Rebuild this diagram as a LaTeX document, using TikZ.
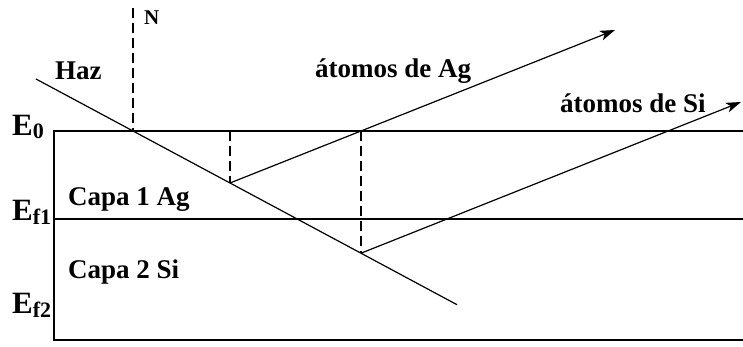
\documentclass[tikz,border=0pt]{standalone}
\usepackage{fontspec}
\setmainfont{Liberation Serif}
\usetikzlibrary{arrows.meta}

\begin{document}
\begin{tikzpicture}[x=1pt, y=-1pt,
    lbl/.style={anchor=base west, inner sep=0pt, font=\fontsize{27}{30}\selectfont\bfseries},
    nlbl/.style={anchor=base west, inner sep=0pt, font=\bfseries},
    elbl/.style={anchor=base west, inner sep=0pt, font=\fontsize{31}{34}\selectfont\bfseries},
    layer/.style={line width=1.2pt},
    beam/.style={line width=1.2pt},
    ray/.style={line width=1.2pt, -{Stealth[length=15pt, width=10pt, inset=4pt]}},
    perp/.style={line width=1.2pt, dash pattern=on 10pt off 5pt}]

    \useasboundingbox (0,0) rectangle (743,347);

    % capas
    \coordinate (tl) at (54,131);  \coordinate (tr) at (743,131);
    \coordinate (ml) at (54,219);  \coordinate (mr) at (743,219);
    \coordinate (bl) at (54,340);  \coordinate (br) at (743,340);
    \draw[layer] (tr) -- (tl) -- (bl) -- (br);
    \draw[layer] (ml) -- (mr);

    % haz incidente
    \coordinate (haz0) at (36,79);
    \coordinate (in)   at (133,131);
    \coordinate (r1)   at (230,183);
    \coordinate (r2)   at (361,253.2);
    \coordinate (fin)  at (457,304.7);
    \draw[beam] (haz0) -- (in) -- (r1) -- (r2) -- (fin);

    % normales
    \coordinate (ntop) at (133,8);
    \coordinate (s1)   at (230,131);
    \coordinate (out1) at (361,131);
    \draw[perp] (ntop) -- (in);
    \draw[perp] (s1) -- (r1);
    \draw[perp] (out1) -- (r2);

    % atomos emitidos
    \coordinate (tipAg) at (615,30);
    \coordinate (tipSi) at (741,102);
    \draw[ray] (r1) -- (out1) -- (tipAg);
    \draw[ray] (r2) -- (tipSi);

    % textos
    \node[nlbl] (nlab) at (144,25) {\fontsize{21}{24}\selectfont N};
    \node[lbl] (haz)  at (55,80)   {Haz};
    \node[lbl] (ag)   at (315,78)  {átomos de Ag};
    \node[lbl] (si)   at (560,113) {átomos de Si};
    \node[lbl] (capa1) at (68,205) {Capa 1 Ag};
    \node[lbl] (capa2) at (68,278) {Capa 2 Si};
    \node[elbl] (e0)  at (12,136) {E\raisebox{-3pt}{\fontsize{22}{22}\selectfont 0}};
    \node[elbl] (ef1) at (12,220) {E\raisebox{-4pt}{\fontsize{22}{22}\selectfont f1}};
    \node[elbl] (ef2) at (12,313) {E\raisebox{-4pt}{\fontsize{22}{22}\selectfont f2}};
  \end{tikzpicture}
\end{document}
